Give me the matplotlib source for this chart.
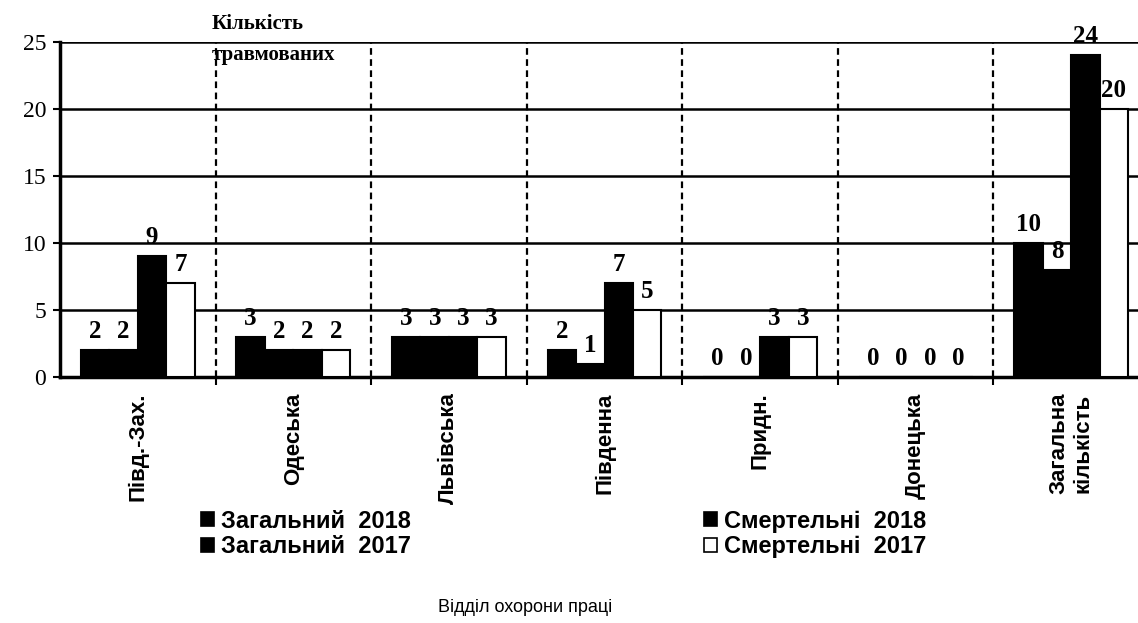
import numpy as np
import matplotlib
matplotlib.use('Agg')
import matplotlib.pyplot as plt
from matplotlib.patches import Patch

# Data
categories = ['Півд.-Зах.', 'Одеська', 'Львівська', 'Південна',
              'Придн.', 'Донецька', 'Загальна\nкількість']
zag_2018 = [2, 3, 3, 2, 0, 0, 10]
zag_2017 = [2, 2, 3, 1, 0, 0, 8]
smert_2018 = [9, 2, 3, 7, 3, 0, 24]
smert_2017 = [7, 2, 3, 5, 3, 0, 20]
series_names = ['Загальний  2018', 'Загальний  2017',
                'Смертельні  2018', 'Смертельні  2017']
y_ticks = [0, 5, 10, 15, 20, 25]

serif = ['Liberation Serif', 'DejaVu Serif']
sans = ['Liberation Sans', 'DejaVu Sans']

W, H = 1138, 623
fig = plt.figure(figsize=(W / 100, H / 100), dpi=100)
ax = fig.add_axes([60 / W, 246 / H, 1089 / W, 335 / H])

x = np.arange(len(categories))
w = 0.183
all_series = [zag_2018, zag_2017, smert_2018, smert_2017]
faces = ['black', 'black', 'black', 'white']
for k, (vals, fc) in enumerate(zip(all_series, faces)):
    pos = x + (k - 1.5) * w
    ax.bar(pos, vals, width=w, color=fc, edgecolor='black', linewidth=1.5, zorder=3)
    for xi, v in zip(pos, vals):
        ax.annotate(str(v), (xi, v), xytext=(0, 5), textcoords='offset points',
                    ha='center', va='bottom', fontsize=18, fontweight='bold',
                    family=serif, zorder=4)

ax.set_xlim(-0.5, 6.5)
ax.set_ylim(0, 25)
ax.set_yticks(y_ticks)
ax.set_yticklabels([str(t) for t in y_ticks], family=serif, fontsize=17)
ax.tick_params(axis='y', length=5, width=1.5, pad=5)

ax.set_xticks(x)
ax.set_xticklabels(categories, rotation=90, family=sans, fontsize=16,
                   fontweight='bold', va='top', ha='center', multialignment='center')
ax.tick_params(axis='x', which='major', length=0, pad=11)
ax.set_xticks(np.arange(0.5, 6.5, 1.0), minor=True)
ax.tick_params(axis='x', which='minor', length=6, width=1.5, direction='out')

# grid: solid horizontal lines, dashed separators between groups
for t in y_ticks[1:]:
    ax.axhline(t, color='black', linewidth=1.8, zorder=1)
for b in np.arange(0.5, 6.5, 1.0):
    ax.axvline(b, color='black', linewidth=1.6, linestyle=(0, (3, 2)), zorder=1)

for s in ['left', 'bottom']:
    ax.spines[s].set_linewidth(2.5)
ax.spines['right'].set_visible(False)
ax.spines['top'].set_visible(False)

fig.text(212 / W, 1 - 14 / H, 'Кількість\nтравмованих', ha='left', va='top',
         family=serif, fontsize=15, fontweight='bold', linespacing=1.75)

handles = [Patch(facecolor=fc, edgecolor='black', linewidth=1.2) for fc in faces]
leg = fig.legend(handles, series_names, ncol=2, loc='center left',
                 bbox_to_anchor=(201 / W, 1 - 534 / H), frameon=False,
                 handlelength=0.55, handleheight=0.55, handletextpad=0.3,
                 columnspacing=12.4, labelspacing=0.12, borderaxespad=0, borderpad=0,
                 prop={'family': sans, 'size': 17, 'weight': 'bold'})

fig.text(525 / W, 1 - 608 / H, 'Відділ охорони праці', ha='center', va='center',
         family=sans, fontsize=13)

fig.savefig('out.png', dpi=100, facecolor='white')
